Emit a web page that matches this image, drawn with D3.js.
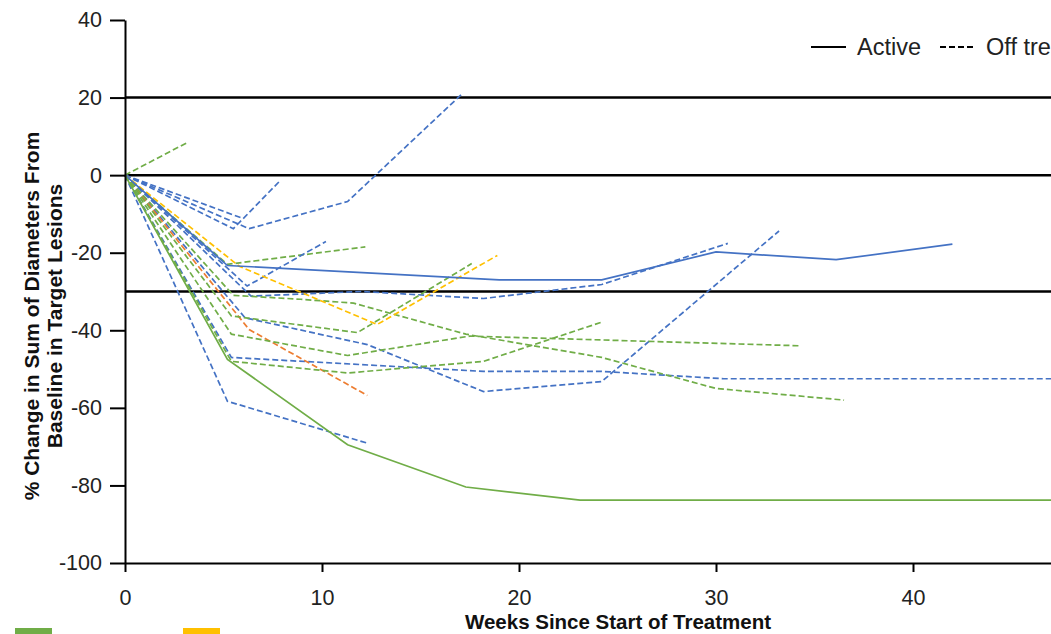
<!DOCTYPE html>
<html>
<head>
<meta charset="utf-8">
<script src="https://cdn.jsdelivr.net/npm/d3@7"></script>
<style>
  html, body { margin: 0; padding: 0; background: #fff; overflow: hidden; }
  svg { display: block; font-family: "Liberation Sans", Arial, sans-serif; }
</style>
</head>
<body>
<svg id="chart"></svg>
<script>
const width = 1051;
const height = 634;

// tick values
const xTicks = [0, 10, 20, 30, 40];
const yTicks = [-100, -80, -60, -40, -20, 0, 20, 40];
// reference lines: +20% progression, 0, -30% partial response
const refLines = [20, 0, -30];

const cohorts = ["Cohort A", "Cohort B", "Cohort C", "Cohort D"];
const statuses = ["Active", "Off treatment"];

// each patient: cohort, status, weeks, % change
const pt01 = { cohort: "Cohort A", status: "Off treatment", wk: [0, 3.2], pct: [0, 8.5] };
const pt02 = { cohort: "Cohort C", status: "Off treatment", wk: [0, 5.9], pct: [0, -11] };
const pt03 = { cohort: "Cohort C", status: "Off treatment", wk: [0, 5.5, 7.9], pct: [0, -13.8, -1.3] };
const pt04 = { cohort: "Cohort C", status: "Off treatment", wk: [0, 6.3, 11.3, 17.1], pct: [0, -13.8, -6.8, 20.9] };
const pt05 = { cohort: "Cohort A", status: "Off treatment", wk: [0, 5.2, 12.2], pct: [0, -23, -18.5] };
const pt06 = { cohort: "Cohort C", status: "Active", wk: [0, 5.2, 19, 24.2, 30, 36.1, 42], pct: [0, -23.3, -27, -27, -19.8, -21.8, -17.8] };
const pt07 = { cohort: "Cohort C", status: "Off treatment", wk: [0, 6.2, 10.2], pct: [0, -28.6, -17.1] };
const pt08 = { cohort: "Cohort B", status: "Off treatment", wk: [0, 5.8, 12.8, 18.9], pct: [0, -23.5, -38.5, -20.7] };
const pt09 = { cohort: "Cohort C", status: "Off treatment", wk: [0, 6.4, 12, 18.2, 24.2, 30.6], pct: [0, -31.2, -30, -31.8, -28.2, -17.6] };
const pt10 = { cohort: "Cohort C", status: "Off treatment", wk: [0, 6.1, 12.3, 18.2, 24.2, 33.2], pct: [0, -36.8, -43.7, -55.8, -53.2, -14.4] };
const pt11 = { cohort: "Cohort C", status: "Off treatment", wk: [0, 5.4, 18.2, 24.2, 30.4, 50], pct: [0, -47, -50.6, -50.6, -52.5, -52.5] };
const pt12 = { cohort: "Cohort C", status: "Off treatment", wk: [0, 5.2, 12.3], pct: [0, -58.3, -69.1] };
const pt13 = { cohort: "Cohort A", status: "Active", wk: [0, 5.2, 11.3, 17.3, 23.1, 50], pct: [0, -47.5, -69.5, -80.4, -83.8, -83.8] };
const pt14 = { cohort: "Cohort D", status: "Off treatment", wk: [0, 6.3, 12.3], pct: [0, -39.8, -56.8] };
const pt15 = { cohort: "Cohort A", status: "Off treatment", wk: [0, 5.5, 8.9, 11.6, 17.3, 24.2, 30, 36.5], pct: [0, -31, -32, -33, -41, -47, -55, -58] };
const pt16 = { cohort: "Cohort A", status: "Off treatment", wk: [0, 5.4, 11.8, 17.6], pct: [0, -36.3, -40.6, -22.8] };
const pt17 = { cohort: "Cohort A", status: "Off treatment", wk: [0, 5.4, 11.3, 17.5, 34.3], pct: [0, -41, -46.5, -41.5, -44] };
const pt18 = { cohort: "Cohort A", status: "Off treatment", wk: [0, 5.4, 11.3, 18.2, 24.2], pct: [0, -48, -51, -48, -37.9] };

const patients = [pt01, pt02, pt03, pt04, pt05, pt07, pt09, pt10, pt11, pt12, pt14,
                  pt15, pt16, pt17, pt18, pt08, pt06, pt13];

const svg = d3.select('#chart')
  .attr('width', width)
  .attr('height', height);

const x = d3.scaleLinear().domain([0, 50]).range([125, 125 + 50 * 19.7]);
const y = d3.scaleLinear().domain([-100, 40]).range([563, 20]);

const color = d3.scaleOrdinal()
  .domain(cohorts)
  .range(["#70AD47", "#FFC000", "#4472C4", "#ED7D31"]);

const dash = d3.scaleOrdinal()
  .domain(statuses)
  .range(["none", "6,3"]);

// reference lines
svg.append('g')
  .selectAll('line')
  .data(refLines)
  .enter().append('line')
    .attr('x1', x(0))
    .attr('x2', width)
    .attr('y1', d => y(d))
    .attr('y2', d => y(d))
    .attr('stroke', 'black')
    .attr('stroke-width', 2.5);

// patient lines
const line = d3.line()
  .x(d => x(d[0]))
  .y(d => y(d[1]));

svg.append('g')
  .selectAll('path')
  .data(patients)
  .enter().append('path')
    .attr('d', p => line(d3.zip(p.wk, p.pct)))
    .attr('fill', 'none')
    .attr('stroke', p => color(p.cohort))
    .attr('stroke-width', 1.7)
    .attr('stroke-dasharray', p => dash(p.status));

// axes (plain hyphen for negatives, as in the original)
const xAxis = svg.append('g')
  .attr('transform', `translate(0,${y(-100)})`)
  .call(d3.axisBottom(x).tickValues(xTicks).tickFormat(d => String(d))
    .tickSize(9).tickSizeOuter(0).tickPadding(18));

const yAxis = svg.append('g')
  .attr('transform', `translate(${x(0)},0)`)
  .call(d3.axisLeft(y).tickValues(yTicks).tickFormat(d => String(d))
    .tickSize(15).tickSizeOuter(0).tickPadding(8));

[xAxis, yAxis].forEach(a => {
  a.selectAll('path, line').attr('stroke', 'black').attr('stroke-width', 2);
  a.selectAll('text')
    .attr('font-size', 21.5)
    .attr('font-family', '"Liberation Sans", Arial, sans-serif')
    .attr('fill', '#222');
});

// axis titles
svg.append('text')
  .attr('x', 618)
  .attr('y', 629)
  .attr('text-anchor', 'middle')
  .attr('font-size', 20.5)
  .attr('font-weight', 'bold')
  .attr('fill', '#111')
  .text('Weeks Since Start of Treatment');

const yTitle = svg.append('text')
  .attr('transform', 'rotate(-90)')
  .attr('text-anchor', 'middle')
  .attr('font-size', 21)
  .attr('font-weight', 'bold')
  .attr('fill', '#111');
yTitle.append('tspan').attr('x', -316).attr('y', 39).text('% Change in Sum of Diameters From');
yTitle.append('tspan').attr('x', -316).attr('y', 62).text('Baseline in Target Lesions');

// status legend
const legend = svg.append('g')
  .selectAll('g')
  .data(statuses)
  .enter().append('g')
    .attr('transform', (d, i) => `translate(${811 + i * 129},47)`);
legend.append('line')
  .attr('x1', 0).attr('x2', 35)
  .attr('stroke', 'black')
  .attr('stroke-width', 2)
  .attr('stroke-dasharray', d => d === 'Active' ? null : '6,3');
legend.append('text')
  .attr('x', 46)
  .attr('y', 8)
  .attr('font-size', 23.5)
  .attr('fill', '#222')
  .text(d => d);

// cohort legend, two per row (runs off the bottom edge)
svg.append('g')
  .selectAll('rect')
  .data(cohorts)
  .enter().append('rect')
    .attr('x', (d, i) => 15 + (i % 2) * 168)
    .attr('y', (d, i) => 628 + Math.floor(i / 2) * 40)
    .attr('width', 37)
    .attr('height', 14)
    .attr('fill', d => color(d));
</script>
</body>
</html>
